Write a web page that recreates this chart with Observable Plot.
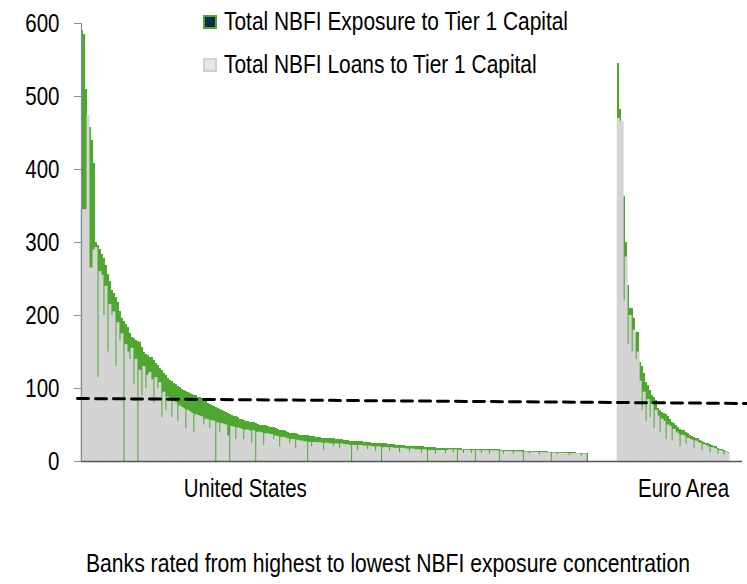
<!DOCTYPE html>
<html><head><meta charset="utf-8">
<script src="https://cdn.jsdelivr.net/npm/d3@7"></script>
<script src="https://cdn.jsdelivr.net/npm/@observablehq/plot@0.6"></script>
<style>
body{margin:0;background:#fff;}
#wrap{position:relative;width:747px;height:584px;font-family:"Liberation Sans",Arial,sans-serif;}
.leg{position:absolute;left:203px;font-size:25.5px;color:#000;display:flex;align-items:center;white-space:nowrap;}
.sw{width:10px;height:10px;margin-right:7px;box-sizing:content-box;flex:none;}
.lt{display:inline-block;transform:scaleX(0.82);transform-origin:left center;}
</style></head>
<body><div id="wrap"></div>
<script>
const seriesNames = ["Total NBFI Exposure to Tier 1 Capital", "Total NBFI Loans to Tier 1 Capital"];
const regionLabels = ["United States", "Euro Area"];
const xTitle = "Banks rated from highest to lowest NBFI exposure concentration";
const yTicks = [0, 100, 200, 300, 400, 500, 600];
const medianLine = [86.3, 79.5];

const usExposure = [
590,585,510,474,457,440,408,300,296,290,283,278,268,256,246,234,230,224,218,205,196,192,188,184,175,170,168,166,164,163,156,149,147,145,143,142,138,134,131,127,124,
121,118,114,111,109,107,105,103,101,99,97,96,95,93,92,91,90,88,87,86,84,82,80,78,77,76,74,72,71,70,68,67,66,65,63,62,61,60,58,57,56,55,55,54,54,53,52,51,50,50,49,49,48,
47,47,46,45,44,43,42,42,41,40,39,39,38,38,37,36,
36,35,35,35,34,34,34,33,33,33,32,32,32,32,31,31,31,
30,30,30,30,29,29,29,28,28,28,28,27,27,27,26,26,26,
26,25,25,25,25,24,24,24,24,23,23,23,23,22,22,22,22,
22,21,21,21,21,21,20,20,20,20,20,19,19,19,19,19,19,18,18,18,18,18,18,
17.8,17.7,17.6,17.5,17.4,17.3,17.2,17.1,17,17,16.9,16.8,16.7,16.6,16.5,16.5,16.4,16.3,16.2,16.2,16.1,16,16,16,15.9,15.8,15.6,15.5,15.4,15.2,15.1,15,14.9,14.8,14.7,14.6,14.5,14.4,14.3,14.2,14.1,14,13.9,13.8,13.7,13.5,13.4,13.3,13.2,13.1,13,12.9,12.8,12.7,12.6,12.5,12.4,12.3,12.2,12.1,12,11.9,11.8,11.7,11.6,11.5,11.4,11.3,11.2,11
];
const usLoans = [
345,345,345,474,265,265,290,293,115,260,255,200,240,150,215,200,205,130,190,165,175,0,160,150,140,155,105,140,0,125,90,130,100,118,122,112,80,115,100,108,60,
95,70,88,85,60,82,80,55,76,74,72,45,70,68,66,40,64,63,62,61,50,58,57,45,56,55,0,53,40,52,51,50,35,0,48,47,30,46,45,44,30,43,43,42,25,42,0,40,40,39,22,38,38,
37,37,30,35,34,20,33,33,32,31,25,30,30,18,29,28,
28,27,27,0,26,20,26,26,25,26,25,15,25,25,24,24,20,
24,24,18,24,23,23,23,22,0,22,22,15,22,22,21,21,16,
21,20,20,14,20,20,0,19,19,19,14,19,18,18,18,12,18,
18,17,17,13,17,17,16,16,16,11,16,16,0,15,15,15,10,15,15,15,15,11,15,
16,16,12,16,0,15.5,15.5,11,15.5,15,15,11,15,0,15,14.8,11,14.7,14.6,14.6,10,14.5,14.4,14.4,14.3,0,14,10,13.9,13.7,13.6,13.5,10,13.3,13.2,13.1,13,0,12.9,12.8,10,12.6,12.5,12.4,12.3,9,12.1,12,11.9,11.8,11.7,0,11.5,11.4,9,11.3,11.2,11.1,11,10.9,8,10.7,10.6,10.5,10.4,10.3,7,10.2,10.1,0
];
const eaExposure = [
545,482,466,363,300,241,210,210,196,177,177,136,130,120,108,104,97,90,88,84,72,70,67,66,64,62,58,54,52,50,46,44,43,42,40,38,36,34,33,32,31,29,28,26,25,24,23,22,21,20,18,17,16,15,14,12
];
const eaLoans = [
470,466,466,220,280,160,200,150,180,140,150,110,70,95,55,85,60,78,45,70,62,40,58,55,30,50,48,28,44,40,38,20,36,35,24,32,30,29,18,28,26,25,15,23,22,20,12,19,18,17,10,15,14,8,13,11
];

const GREEN = "#4ea72e", GREY = "#d4d4d4";
const eaStart = usExposure.length + 14.5;
const rows = [
  ...usExposure.map((v, i) => ({pos: i, exposure: v, loans: usLoans[i]})),
  ...eaExposure.map((v, j) => ({pos: eaStart + j, exposure: v, loans: eaLoans[j]}))
];
const xMax = eaStart + eaExposure.length + 6.5;
const font = '"Liberation Sans",Arial,sans-serif';

const plot = Plot.plot({
  width: 747, height: 584,
  marginLeft: 81, marginRight: 5, marginTop: 23, marginBottom: 123,
  x: {domain: [0, xMax], axis: null},
  y: {domain: [0, 600], axis: null},
  style: {fontFamily: font, fontSize: "25px", background: "#fff", color: "#000", overflow: "visible"},
  marks: [
    Plot.rectY(rows, {x1: "pos", x2: d => d.pos + 1, y1: 0, y2: "exposure", fill: GREEN, shapeRendering: "crispEdges"}),
    Plot.rectY(rows, {x1: "pos", x2: d => d.pos + 1, y1: 0, y2: "loans", fill: GREY, insetLeft: -0.5, insetRight: -0.5}),
    Plot.ruleY([0], {stroke: "#555", strokeWidth: 1.5}),
    Plot.ruleX([0], {y1: 0, y2: 600, stroke: "#7f909c", strokeWidth: 1.2}),
    Plot.axisY({ticks: yTicks, tickSize: 7, tickPadding: 15, stroke: "#7f909c", color: "#000", fontSize: 25, label: null}),
    Plot.line([{x: -2, y: medianLine[0]}, {x: xMax + 2.5, y: medianLine[1]}],
      {x: "x", y: "y", stroke: "#000", strokeWidth: 3, strokeDasharray: "11,7"}),
    Plot.text(regionLabels, {x: [82, eaStart + 33], frameAnchor: "bottom", dy: 35, fontSize: 25, fill: "#000"}),
    Plot.text([xTitle], {frameAnchor: "bottom", dx: -24, dy: 110, fontSize: 25.8, fill: "#000"})
  ]
});

// emulate the chart's narrow face: squeeze every label horizontally around its own anchor
plot.querySelectorAll("text").forEach(t => {
  const tr = t.getAttribute("transform") || "";
  const x = parseFloat(t.getAttribute("x")) || 0;
  t.setAttribute("transform", `${tr} translate(${x},0) scale(0.82,1) translate(${-x},0)`);
});

const wrap = document.getElementById("wrap");
wrap.appendChild(plot);
const legendStyles = [
  {top: 7, fill: "#0d2b45", border: "2px solid " + GREEN},
  {top: 50, fill: "#e6e6e6", border: "2px solid #d0d0d0"}
];
seriesNames.forEach((name, k) => {
  const d = document.createElement("div");
  d.className = "leg";
  d.style.top = legendStyles[k].top + "px";
  d.innerHTML = `<span class="sw" style="background:${legendStyles[k].fill};border:${legendStyles[k].border}"></span><span class="lt">${name}</span>`;
  wrap.appendChild(d);
});
</script>
</body></html>
